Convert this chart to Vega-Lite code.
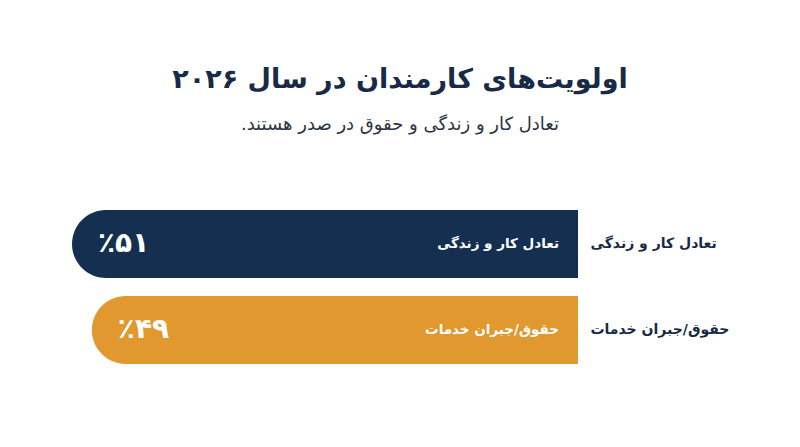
{
  "$schema": "https://vega.github.io/schema/vega-lite/v6.json",
  "autosize": {"type": "none"},
  "width": 506,
  "height": 154,
  "padding": {"left": 72, "right": 222, "top": 210, "bottom": 83},
  "background": "#ffffff",
  "config": {"view": {"stroke": null}},
  "title": {
    "text": "اولویت‌های کارمندان در سال ۲۰۲۶",
    "subtitle": "تعادل کار و زندگی و حقوق در صدر هستند.‏",
    "anchor": "middle",
    "dx": 75,
    "offset": 75,
    "font": "DejaVu Sans",
    "fontSize": 27,
    "fontWeight": "bold",
    "color": "#182a46",
    "subtitleFont": "DejaVu Sans",
    "subtitleFontSize": 18,
    "subtitleColor": "#2b3344",
    "subtitlePadding": 22
  },
  "data": {
    "values": [
      {"category": "تعادل کار و زندگی", "value": 51, "pct_label": "٪۵۱"},
      {"category": "حقوق/جبران خدمات", "value": 49, "pct_label": "٪۴۹"}
    ]
  },
  "encoding": {
    "y": {
      "field": "category",
      "type": "nominal",
      "sort": null,
      "scale": {"paddingInner": 0.21, "paddingOuter": 0},
      "axis": {
        "orient": "right",
        "title": null,
        "domain": false,
        "ticks": false,
        "grid": false,
        "labelPadding": 12,
        "labelFont": "DejaVu Sans",
        "labelFontSize": 14,
        "labelFontWeight": "bold",
        "labelColor": "#182a46"
      }
    }
  },
  "layer": [
    {
      "mark": {"type": "bar", "cornerRadiusTopLeft": 34, "cornerRadiusBottomLeft": 34},
      "encoding": {
        "x": {
          "field": "value",
          "type": "quantitative",
          "scale": {"domain": [0, 51], "reverse": true, "nice": false},
          "axis": null
        },
        "color": {
          "field": "category",
          "type": "nominal",
          "sort": null,
          "scale": {"range": ["#142f50", "#e0982f"]},
          "legend": null
        }
      }
    },
    {
      "mark": {"type": "text", "align": "right", "dx": -19, "font": "DejaVu Sans", "fontSize": 13.5, "fontWeight": "bold", "color": "#ffffff"},
      "encoding": {
        "x": {"datum": 0, "type": "quantitative"},
        "text": {"field": "category"}
      }
    },
    {
      "mark": {"type": "text", "align": "left", "dx": 26, "font": "DejaVu Sans", "fontSize": 28, "fontWeight": "bold", "color": "#ffffff"},
      "encoding": {
        "x": {"field": "value", "type": "quantitative"},
        "text": {"field": "pct_label"}
      }
    }
  ]
}
